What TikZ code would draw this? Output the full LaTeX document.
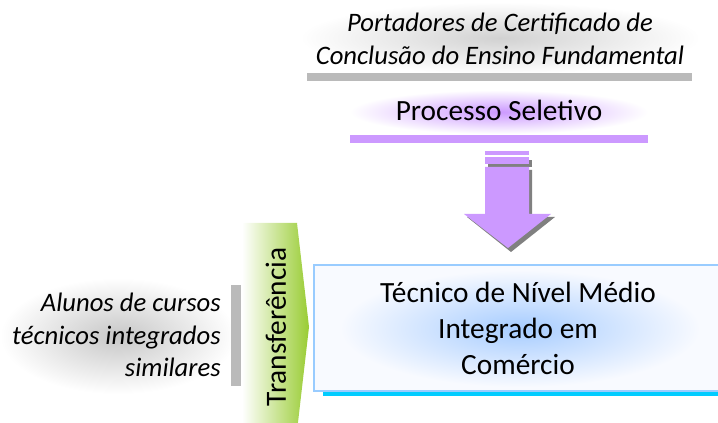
\documentclass[tikz,border=0pt]{standalone}
\usepackage{fontspec}
\setmainfont{Carlito}
\usepackage{tikz}
\usetikzlibrary{shapes,arrows}
\definecolor{lilac}{HTML}{CC99FF}
\definecolor{skyline}{HTML}{99CCFF}
\definecolor{cyanbar}{HTML}{00CCFF}
\definecolor{leaf}{HTML}{99CC33}
\definecolor{boxfill}{HTML}{F8FAFF}
\definecolor{boxglow}{HTML}{A6CCFF}
\tikzstyle{group} = [font=\fontsize{20}{24.5}\selectfont\itshape, inner sep=0pt]
\tikzstyle{stage} = [font=\fontsize{22}{26}\selectfont, inner sep=0pt]
\tikzstyle{course} = [font=\fontsize{22}{27}\selectfont, align=center, inner sep=0pt]
\tikzstyle{bar} = [fill=black!27]
\tikzstyle{shadow} = [fill=black!50]

\begin{document}
\begin{tikzpicture}[x=0.75pt,y=-0.75pt]
	\useasboundingbox (0,0) rectangle (718,423);

	% Glows behind the texts
	\shade [inner color=black!18, outer color=white] (300,2) rectangle (700,74);
	\shade [inner color=lilac, outer color=white] (350,90) rectangle (648,134);
	\shade [inner color=black!22, outer color=white] (0,278) rectangle (236,394);

	% Main box
	\fill [cyanbar] (323,389) rectangle (722,396);
	\fill [boxfill] (314,265) rectangle (722,391);
	\shade [inner color=boxglow, outer color=boxfill] (340,270) rectangle (700,387);
	\draw [skyline, line width=1.5] (314,265) rectangle (722,391);

	% Bars
	\fill [bar] (307,73) rectangle (692,81);
	\fill [lilac] (350,135) rectangle (648,143);
	\fill [bar] (231,285) rectangle (241,386);

	% Down arrow
	\fill [shadow] (488,160) rectangle (532,167);
	\fill [shadow] (488,170) -- (532,170) -- (532,217) -- (555,217) -- (511,252) -- (467,217) -- (488,217) -- cycle;
	\fill [lilac] (485,151) rectangle (529,155);
	\fill [lilac] (485,157) rectangle (529,164);
	\fill [lilac] (485,167) -- (529,167) -- (529,214) -- (551,214) -- (508,248) -- (464,214) -- (485,214) -- cycle;

	% Transfer arrow
	\shade [left color=white, right color=leaf] (242,223) -- (297,223) -- (309,327) -- (297,431) -- (242,431) -- cycle;

	% Place nodes
	\node [group, align=center] at (500,39) (holders) {Portadores de Certificado de\\Conclusão do Ensino Fundamental};
	\node [stage] at (499,110) (selection) {Processo Seletivo};
	\node [group, align=right, anchor=east] at (221,335) (students) {Alunos de cursos\\técnicos integrados\\similares};
	\node [stage, rotate=90] at (276,327) (transfer) {Transferência};
	\node [course] at (518,328) (course) {Técnico de Nível Médio\\Integrado em\\Comércio};
\end{tikzpicture}
\end{document}
